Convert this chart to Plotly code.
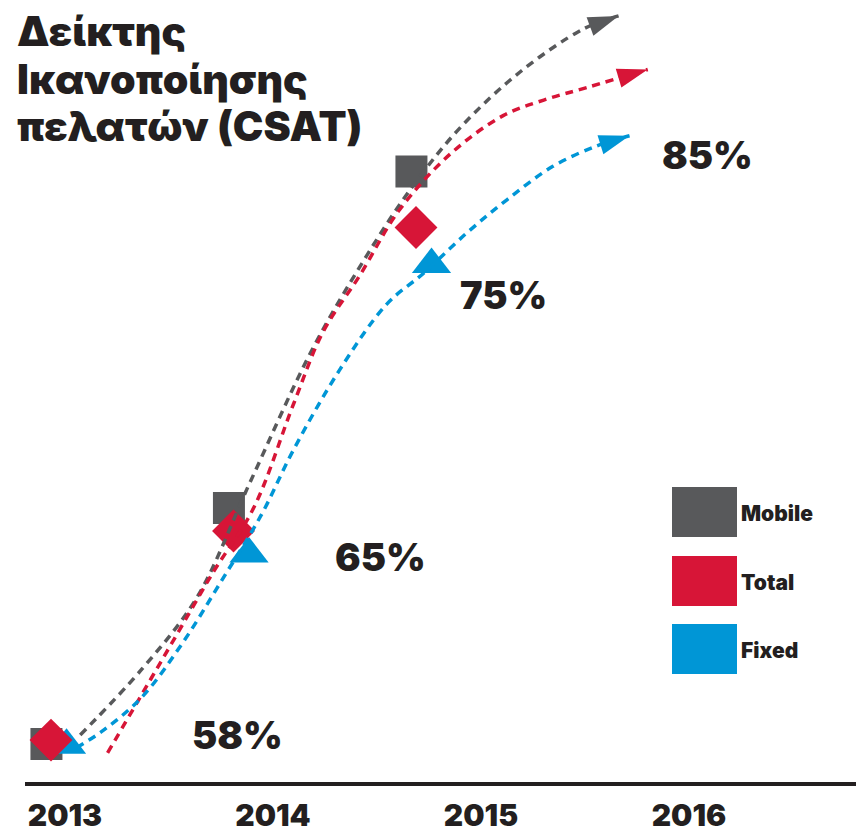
"""
CSAT index chart (Mobile / Total / Fixed), 2013-2016
Uses: plotly
"""

import plotly.graph_objects as go

# ── Data ─────────────────────────────────────────────────────────────────────
years = [2013, 2014, 2015, 2016]
series = ['Mobile', 'Total', 'Fixed']

mobile_csat = [57.65, 66.9, 80.1]
total_csat = [57.8, 66.0, 77.9]
fixed_csat = [57.6, 65.1, 76.45]

csat_levels = [58, 65, 75, 85]

# dashed trend paths (year, CSAT %), last point is the arrow tip
mobile_trend_x = [2013.16, 2013.50, 2013.80, 2014.09, 2014.43, 2014.73,
                  2014.98, 2015.24, 2015.57, 2015.92, 2016.11]
mobile_trend_y = [58.0, 60.6, 63.4, 67.9, 73.1, 76.8,
                  79.5, 81.8, 84.0, 85.7, 86.2]

total_trend_x = [2013.31, 2013.49, 2013.67, 2013.89, 2014.11, 2014.33, 2014.49,
                 2014.69, 2014.91, 2015.19, 2015.48, 2015.70, 2015.94, 2016.27]
total_trend_y = [57.3, 59.5, 61.7, 64.4, 66.9, 71.0, 73.8,
                 76.0, 78.6, 80.8, 82.3, 82.9, 83.4, 84.1]

fixed_trend_x = [2013.14, 2013.29, 2013.50, 2013.72, 2013.93, 2014.15, 2014.33,
                 2014.58, 2014.84, 2015.04, 2015.28, 2015.50, 2015.75, 2015.99, 2016.17]
fixed_trend_y = [57.5, 58.2, 59.5, 61.6, 64.0, 66.6, 69.2,
                 72.3, 74.9, 76.1, 77.7, 79.0, 80.3, 81.1, 81.5]

# ── Style ────────────────────────────────────────────────────────────────────
W, H = 856, 832
FONT = 'Inter'
INK = '#231f20'
COLORS = {'Mobile': '#58595b', 'Total': '#d71537', 'Fixed': '#0096d6'}
SYMBOLS = {'Mobile': ('square', 32), 'Total': ('diamond', 33), 'Fixed': ('triangle-up', 34)}
DODGE = {'Mobile': -0.025, 'Total': 0.0, 'Fixed': 0.085}

values = {'Mobile': mobile_csat, 'Total': total_csat, 'Fixed': fixed_csat}
trends = {'Mobile': (mobile_trend_x, mobile_trend_y),
          'Total': (total_trend_x, total_trend_y),
          'Fixed': (fixed_trend_x, fixed_trend_y)}

fig = go.Figure()

# ── Markers ──────────────────────────────────────────────────────────────────
for name in ['Mobile', 'Fixed', 'Total']:
    sym, size = SYMBOLS[name]
    fig.add_trace(go.Scatter(
        x=[y + DODGE[name] for y in years[:3]], y=values[name],
        mode='markers', name=name, cliponaxis=False,
        marker=dict(symbol=sym, size=size, color=COLORS[name], opacity=1,
                    line=dict(width=0)),
        hoverinfo='x+y+name'
    ))

# ── Dashed trend arrows ──────────────────────────────────────────────────────
for name in series:
    tx, ty = trends[name]
    n = len(tx)
    fig.add_trace(go.Scatter(
        x=tx, y=ty, mode='lines+markers', name=name + ' trend', cliponaxis=False,
        line=dict(color=COLORS[name], width=3.5, dash='8px,6px', shape='spline'),
        marker=dict(symbol=['circle'] * (n - 1) + ['arrow'],
                    size=[0] * (n - 1) + [32], opacity=1,
                    angleref='previous', color=COLORS[name], line=dict(width=0)),
        hoverinfo='skip'
    ))

# year labels live on their own axis
fig.add_trace(go.Scatter(x=years, y=[None] * len(years), xaxis='x2',
                         mode='markers', hoverinfo='skip', showlegend=False))

# ── Layout ───────────────────────────────────────────────────────────────────
fig.update_layout(
    width=W, height=H, margin=dict(l=0, r=0, t=0, b=0),
    paper_bgcolor='white', plot_bgcolor='white', showlegend=False,
    font=dict(family=FONT, color=INK),
    xaxis=dict(domain=[25 / W, 1], range=[2012.8575, 2017.411],
               showline=True, linewidth=4, linecolor=INK,
               showticklabels=False, ticks='', showgrid=False, zeroline=False),
    xaxis2=dict(overlaying='x', anchor='y', side='bottom',
                range=[2012.8077, 2016.803], tickvals=years,
                ticktext=[str(y) for y in years],
                tickfont=dict(family=FONT, size=30, color=INK, weight=900),
                ticks='outside', ticklen=7, tickcolor='rgba(0,0,0,0)',
                showgrid=False, zeroline=False, showline=False),
    yaxis=dict(domain=[50 / H, 1], range=[56.157, 86.824], visible=False),
)

# title, one annotation per line to keep the tight leading
annotations = []
title_lines = ['Δείκτης', 'Ικανοποίησης', 'πελατών (CSAT)']
for i, line in enumerate(title_lines):
    annotations.append(dict(
        text=line, x=15 / W, y=1 - (31 + 47.5 * i) / H, xref='paper', yref='paper',
        xanchor='left', yanchor='middle', align='left', showarrow=False,
        font=dict(family=FONT, size=41, color=INK, weight=900)
    ))

# percentage call-outs
label_pos = [(237, 735), (380, 557), (504, 295), (707, 155)]
for lvl, (px, py) in zip(csat_levels, label_pos):
    annotations.append(dict(
        text=f'{lvl}%', x=px / W, y=1 - py / H, xref='paper', yref='paper',
        xanchor='center', yanchor='middle', showarrow=False,
        font=dict(family=FONT, size=38, color=INK, weight=900)
    ))

# legend (big colour keys)
shapes = []
key_top = [487, 556, 624]
for name, top in zip(series, key_top):
    shapes.append(dict(type='rect', xref='paper', yref='paper',
                       x0=672 / W, x1=737 / W, y0=1 - (top + 50) / H, y1=1 - top / H,
                       fillcolor=COLORS[name], line=dict(width=0)))
    annotations.append(dict(
        text=name, x=739 / W, y=1 - (top + 26) / H, xref='paper', yref='paper',
        xanchor='left', yanchor='middle', showarrow=False,
        font=dict(family=FONT, size=21, color=INK, weight=900)
    ))

fig.update_layout(annotations=annotations, shapes=shapes)

fig.write_html('out.html', config={'displayModeBar': False},
               post_script="document.body.style.margin='0px';")
